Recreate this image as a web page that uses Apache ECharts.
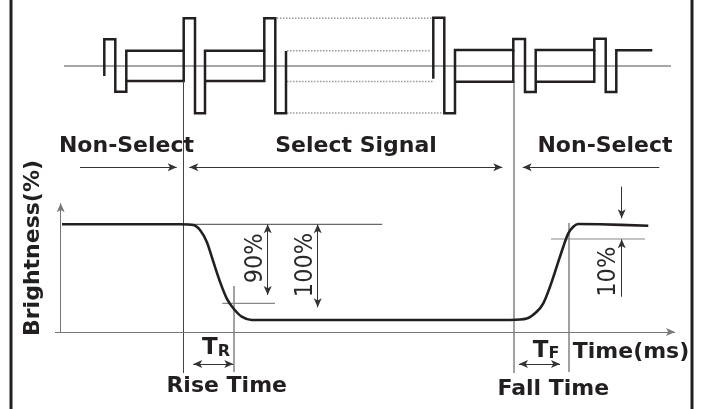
<!DOCTYPE html>
<html>
<head>
<meta charset="utf-8">
<script src="https://cdn.jsdelivr.net/npm/echarts@6/dist/echarts.min.js"></script>
<style>
  html, body { margin: 0; padding: 0; background: #fff; }
  #chart { width: 705px; height: 409px; }
</style>
</head>
<body>
<div id="chart"></div>
<script>
// drawing units = canvas pixels (y grows downward)
const frameX = [11, 692]

// drive waveform, left and right groups
const waveLeft = [[104.3, 76], [104.3, 39.3], [115.3, 39.3], [115.3, 91.7], [126.3, 91.7], [126.3, 50.7],
  [183.7, 50.7], [183.7, 18.3], [195, 18.3], [195, 113.3], [205, 113.3], [205, 50.7],
  [264.3, 50.7], [264.3, 18.3], [275.3, 18.3], [275.3, 113.3], [286, 113.3], [286, 51]]
const waveLeftLow1 = [[126.3, 81], [183.7, 81], [183.7, 50.7]]
const waveLeftLow2 = [[205, 81], [264.3, 81], [264.3, 50.7]]
const waveRight = [[433.3, 78.7], [433.3, 17.7], [444.3, 17.7], [444.3, 113.3], [455, 113.3], [455, 50],
  [513.3, 50], [513.3, 39], [525, 39], [525, 92], [535.7, 92], [535.7, 50],
  [594.3, 50], [594.3, 38.7], [605.7, 38.7], [605.7, 92], [616.3, 92], [616.3, 50.3], [652.3, 50.3]]
const waveRightLow1 = [[455, 81.7], [513.3, 81.7], [513.3, 50]]
const waveRightLow2 = [[535.7, 81.7], [594.3, 81.7], [594.3, 50]]
const waveCenter = [[64, 66], [671, 66]]
const dottedLevels = [
  [[277, 18.3], [431.7, 18.3]],
  [[287, 50.7], [431, 50.7]],
  [[287, 81.5], [432.7, 81.5]],
  [[287, 113], [441.7, 113]],
]

// optical response
const brightness = [[62, 224.3], [180, 224.3], [193.3, 225], [200, 230], [206.7, 241.7], [213.3, 261.7],
  [220, 281.7], [226.7, 298.3], [233.3, 308.3], [241.7, 316.7], [251.7, 320], [270, 320],
  [510, 320], [526.7, 318.6], [536.7, 311.7], [543.3, 303.3], [550, 286.7], [556.7, 266.7],
  [563.3, 246.7], [568.3, 233.3], [573.3, 226.7], [578.3, 224], [600, 224.3], [648.3, 225.7]]

// guide lines
const guideDark = [
  [[183.5, 81], [183.5, 373]],
  [[514, 81], [514, 373]],
  [[234, 286], [234, 372]],
  [[569, 223], [569, 372]],
  [[186, 224.3], [382.3, 224.3]],
]
const guideGrey = [
  [[222.3, 303.3], [275, 303.3]],
  [[551, 239], [645, 239]],
]

// arrows [from, to]
const axisArrows = [[[60.7, 333], [60.7, 203.3]], [[55, 332], [675, 332]]]
const singleArrows = [
  [[80, 167.3], [176.7, 167.3]],
  [[659.3, 167.3], [522.7, 167.3]],
  [[621.7, 186.7], [621.7, 218.3]],
  [[621.7, 296.7], [621.7, 239.3]],
]
const doubleArrows = [
  [[189.3, 167.3], [502.3, 167.3]],
  [[267.7, 224.3], [267.7, 295]],
  [[317.7, 224.3], [317.7, 307.3]],
  [[193.3, 364], [233.3, 364]],
  [[519, 364], [560, 364]],
]

// texts
const boldLabels = [
  ['Non-Select', 126.5, 146.5],
  ['Select Signal', 356, 146.5],
  ['Non-Select', 605, 146.5],
  ['Rise Time', 226.7, 386.7],
  ['Fall Time', 553.3, 389.3],
  ['Time(ms)', 631, 352.7],
]
const yTitle = ['Brightness(%)', 33.5, 248]
const percentLabels = [['90%', 255.5, 258.3], ['100%', 305, 265], ['10%', 608.5, 271.7]]
const subLabels = [['T', 'R', 216, 348.3], ['T', 'F', 546, 350.7]]

const INK = '#231f20'
const BOLD_FONT = 'DejaVu Sans'
const NARROW_FONT = '"Liberation Sans Narrow", "DejaVu Sans Condensed", sans-serif'

function lineSeries(points, style, smooth) {
  return {
    type: 'line',
    data: points,
    symbol: 'none',
    smooth: smooth || false,
    silent: true,
    lineStyle: style,
    z: 3,
  }
}

function arrowSeries(list, double, color) {
  return {
    type: 'line',
    data: [],
    silent: true,
    markLine: {
      silent: true,
      animation: false,
      symbol: double ? ['arrow', 'arrow'] : ['none', 'arrow'],
      symbolSize: [6, 9],
      label: { show: false },
      lineStyle: { color: color, width: 1, type: 'solid' },
      data: list.map(([a, b]) => [{ coord: a }, { coord: b }]),
    },
  }
}

const series = []

frameX.forEach((x) => series.push(lineSeries([[x, -5], [x, 414]], { color: INK, width: 3 })))
series.push(lineSeries(waveCenter, { color: '#8a8a8a', width: 1.5 }))
dottedLevels.forEach((d) => series.push(lineSeries(d, { color: '#9a9a9a', width: 1.5, type: [1.5, 1.5] })))
;[waveLeft, waveLeftLow1, waveLeftLow2, waveRight, waveRightLow1, waveRightLow2].forEach((w) =>
  series.push(lineSeries(w, { color: INK, width: 2.5, join: 'miter' }))
)
guideDark.forEach((g) => series.push(lineSeries(g, { color: '#444', width: 1 })))
guideGrey.forEach((g) => series.push(lineSeries(g, { color: '#888', width: 1.2 })))
series.push(lineSeries(brightness, { color: INK, width: 2.6 }, 0.3))

series.push(arrowSeries(axisArrows, false, '#777'))
series.push(arrowSeries(singleArrows, false, '#333'))
series.push(arrowSeries(doubleArrows, true, '#333'))

const textData = []
const baseLabel = { show: true, position: 'inside', color: INK, textBorderWidth: 0, opacity: 1 }
boldLabels.forEach(([t, x, y]) =>
  textData.push({
    value: [x, y],
    label: Object.assign({}, baseLabel, { formatter: t, fontSize: 22, fontWeight: 'bold', fontFamily: BOLD_FONT }),
  })
)
textData.push({
  value: [yTitle[1], yTitle[2]],
  label: Object.assign({}, baseLabel, {
    formatter: yTitle[0], fontSize: 22, fontWeight: 'bold', fontFamily: BOLD_FONT, rotate: 90,
  }),
})
percentLabels.forEach(([t, x, y]) =>
  textData.push({
    value: [x, y],
    label: Object.assign({}, baseLabel, { formatter: t, fontSize: 25, fontFamily: NARROW_FONT, rotate: 90, color: '#2a2a2a' }),
  })
)
subLabels.forEach(([a, b, x, y]) =>
  textData.push({
    value: [x, y],
    label: Object.assign({}, baseLabel, {
      formatter: '{big|' + a + '}{small|' + b + '}',
      rich: {
        big: { fontSize: 23, fontWeight: 'bold', fontFamily: BOLD_FONT, color: INK, verticalAlign: 'bottom' },
        small: { fontSize: 16, fontWeight: 'bold', fontFamily: BOLD_FONT, color: INK, verticalAlign: 'bottom' },
      },
    }),
  })
)

series.push({
  type: 'scatter',
  symbolSize: 0,
  silent: true,
  z: 5,
  itemStyle: { color: INK, opacity: 1 },
  label: baseLabel,
  labelLayout: { hideOverlap: false },
  emphasis: { disabled: true },
  data: textData,
})

const chart = echarts.init(document.getElementById('chart'), null, { renderer: 'canvas' })
chart.setOption({
  animation: false,
  backgroundColor: '#fff',
  grid: { left: 0, right: 0, top: 0, bottom: 0 },
  xAxis: { type: 'value', min: 0, max: 705, show: false },
  yAxis: { type: 'value', min: 0, max: 409, inverse: true, show: false },
  series: series,
})
</script>
</body>
</html>
